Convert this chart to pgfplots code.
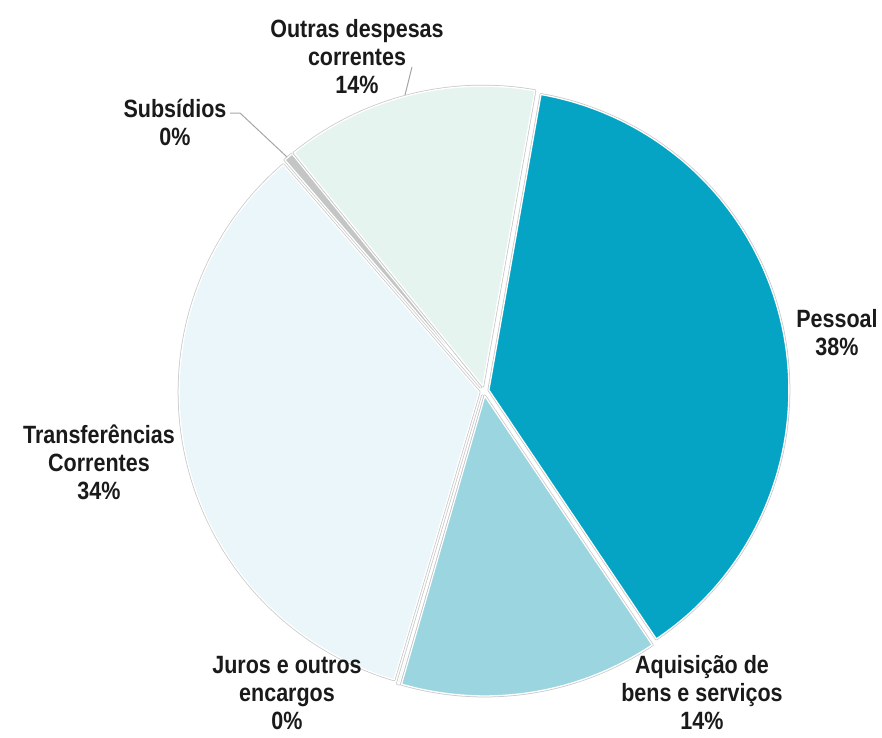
\documentclass[border=0pt]{standalone}
\usepackage{pgfplots}
\usepackage{pgfplotstable}
\pgfplotsset{compat=1.18}
\usepackage{fontspec}
\setmainfont{Liberation Sans}[FakeStretch=0.86]

\definecolor{cA}{RGB}{5,164,196}
\definecolor{cB}{RGB}{155,214,224}
\definecolor{cC}{RGB}{210,236,242}
\definecolor{cD}{RGB}{234,246,250}
\definecolor{cE}{RGB}{196,198,198}
\definecolor{cF}{RGB}{230,244,240}
\definecolor{txt}{RGB}{26,26,26}

% shares (%) in clockwise order, starting 10 degrees right of 12 o'clock
\pgfplotstableread{
name value
Pessoal 37.8
Aquisicao 13.9
Juros 0.1
Transferencias 34.1
Subsidios 0.5
Outras 13.6
}\piedata

\def\cx{484}\def\cy{391}\def\R{300}\def\ex{5}
\xdef\acc{10}
\newcommand\defslice[2]{%
  \pgfplotstablegetelem{#1}{value}\of\piedata
  \pgfmathsetmacro\tmpv{\pgfplotsretval}%
  \pgfmathsetmacro\tmpe{\acc+3.6*\tmpv}%
  \pgfmathsetmacro\tmpm{(\acc+\tmpe)/2}%
  \expandafter\xdef\csname s#2\endcsname{\acc}%
  \expandafter\xdef\csname e#2\endcsname{\tmpe}%
  \pgfmathsetmacro\tmpx{\cx+\ex*sin(\tmpm)}%
  \pgfmathsetmacro\tmpy{\cy-\ex*cos(\tmpm)}%
  \expandafter\xdef\csname x#2\endcsname{\tmpx}%
  \expandafter\xdef\csname y#2\endcsname{\tmpy}%
  \xdef\acc{\tmpe}%
}
\defslice{0}{A}\defslice{1}{B}\defslice{2}{C}
\defslice{3}{D}\defslice{4}{E}\defslice{5}{F}

\begin{document}
\begin{tikzpicture}
\begin{axis}[
  scale only axis, width=882pt, height=737pt,
  xmin=0, xmax=882, ymin=0, ymax=737, y dir=reverse,
  hide axis, clip=false,
]
\path (rel axis cs:0,0) rectangle (rel axis cs:1,1);
\pgfplotsset{slice/.style={draw=white, line width=1.3pt, samples=120, variable=\t, line join=round,
  preaction={draw=black!22, line width=2.8pt}}}
\addplot[slice, fill=cA, domain=\sA:\eA] ({\xA+\R*sin(\t)},{\yA-\R*cos(\t)}) -- (axis cs:\xA,\yA) -- cycle;
\addplot[slice, fill=cB, domain=\sB:\eB] ({\xB+\R*sin(\t)},{\yB-\R*cos(\t)}) -- (axis cs:\xB,\yB) -- cycle;
\addplot[slice, fill=cC, domain=\sC:\eC] ({\xC+\R*sin(\t)},{\yC-\R*cos(\t)}) -- (axis cs:\xC,\yC) -- cycle;
\addplot[slice, fill=cD, domain=\sD:\eD] ({\xD+\R*sin(\t)},{\yD-\R*cos(\t)}) -- (axis cs:\xD,\yD) -- cycle;
\addplot[slice, fill=cE, domain=\sE:\eE] ({\xE+\R*sin(\t)},{\yE-\R*cos(\t)}) -- (axis cs:\xE,\yE) -- cycle;
\addplot[slice, fill=cF, domain=\sF:\eF] ({\xF+\R*sin(\t)},{\yF-\R*cos(\t)}) -- (axis cs:\xF,\yF) -- cycle;

\draw[gray!70, line width=1pt] (axis cs:230,113) -- (axis cs:240,113) -- (axis cs:287,157);
\draw[gray!70, line width=1pt] (axis cs:412,67) -- (axis cs:405,95);

\tikzset{lab/.style={align=center, text=txt, inner sep=0pt, font=\fontsize{25}{28}\selectfont\bfseries}}
\node[lab] at (axis cs:357,57) {Outras despesas\\correntes\\14\%};
\node[lab] at (axis cs:175,122) {Subsídios\\0\%};
\node[lab] at (axis cs:837,333) {Pessoal\\38\%};
\node[lab] at (axis cs:99,462) {Transferências\\Correntes\\34\%};
\node[lab] at (axis cs:702,693) {Aquisição de\\bens e serviços\\14\%};
\node[lab] at (axis cs:287,693) {Juros e outros\\encargos\\0\%};
\end{axis}
\end{tikzpicture}
\end{document}
